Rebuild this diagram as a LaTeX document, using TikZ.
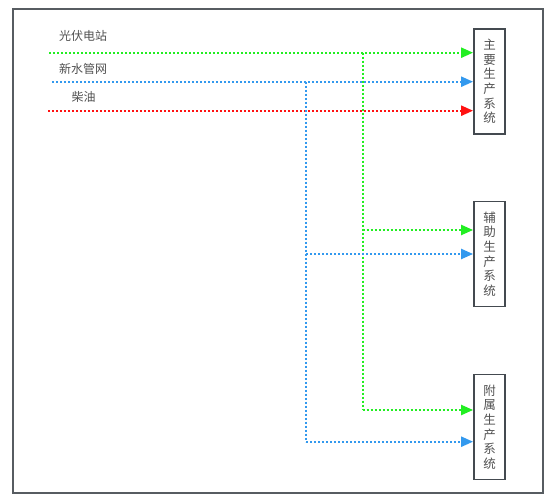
\documentclass[tikz,border=0pt]{standalone}
\usepackage{fontspec}
\newfontfamily\cjk{Noto Sans CJK SC}
\usetikzlibrary{arrows.meta}
\definecolor{lgreen}{HTML}{22EE22}
\definecolor{lblue}{HTML}{3399EE}
\definecolor{lred}{HTML}{FF1111}
\definecolor{txt}{HTML}{505050}
\definecolor{frame}{HTML}{444A50}
\tikzset{
  flow/.style={line width=2.2pt, dash pattern=on 2pt off 2pt},
  tip/.style={-{Triangle[length=12pt,width=10pt]}},
  sysbox/.style={draw=frame, line width=1.8pt, minimum width=31pt, minimum height=105pt, inner sep=0pt,
    align=center, font=\cjk\fontsize{12.5pt}{14.6pt}\selectfont, text=txt},
  lbl/.style={anchor=west, font=\cjk\fontsize{12pt}{13pt}\selectfont, text=txt, inner sep=0pt}
}
\begin{document}
\begin{tikzpicture}[x=1pt,y=-1pt]
\useasboundingbox (0,0) rectangle (554,502);
\draw[draw=frame!90, line width=1.4pt] (13,9) rectangle (543,493);
\node[sysbox] (b1) at (489.5,81.5) {主\\要\\生\\产\\系\\统};
\node[sysbox] (b2) at (489.5,254) {辅\\助\\生\\产\\系\\统};
\node[sysbox] (b3) at (489.5,427) {附\\属\\生\\产\\系\\统};
\node[lbl] (l1) at (59,36) {光伏电站};
\node[lbl] (l2) at (59,69) {新水管网};
\node[lbl] (l3) at (71.5,97) {柴油};
\coordinate (gs) at (49,52.7);
\coordinate (bs) at (52,81.7);
\coordinate (rs) at (48,110.7);
\coordinate (gv) at (362.7,52.7);
\coordinate (g2) at (362.7,230);
\coordinate (g3) at (362.7,410);
\coordinate (bv) at (306,81.7);
\coordinate (bl2) at (306,254);
\coordinate (bl3) at (306,441.7);
% main lines
\draw[flow, lgreen, tip] (gs) -- (gs -| b1.west);
\draw[flow, lblue, tip] (bs) -- (bs -| b1.west);
\draw[flow, lred, tip] (rs) -- (rs -| b1.west);
% green branches
\draw[flow, lgreen] (gv) -- (g3);
\draw[flow, lgreen, tip] (g2) -- (g2 -| b2.west);
\draw[flow, lgreen, tip] (g3) -- (g3 -| b3.west);
% blue branches
\draw[flow, lblue] (bv) -- (bl3);
\draw[flow, lblue, tip] (bl2) -- (bl2 -| b2.west);
\draw[flow, lblue, tip] (bl3) -- (bl3 -| b3.west);
\end{tikzpicture}
\end{document}
